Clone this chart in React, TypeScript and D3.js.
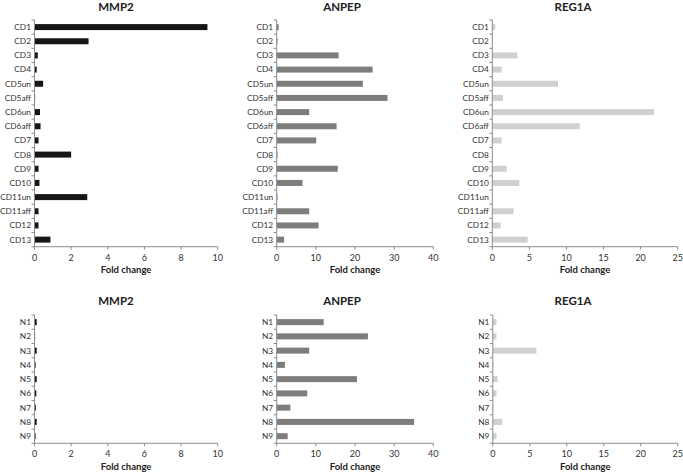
import React from "react";
import * as d3 from "d3";

const cdCategories = ["CD1","CD2","CD3","CD4","CD5un","CD5aff","CD6un","CD6aff","CD7","CD8","CD9","CD10","CD11un","CD11aff","CD12","CD13"];
const nCategories = ["N1","N2","N3","N4","N5","N6","N7","N8","N9"];

const mmp2CD = [9.44,2.95,0.18,0.12,0.47,0.03,0.3,0.33,0.22,2.0,0.22,0.27,2.88,0.22,0.22,0.87];
const anpepCD = [0.5,0.2,15.8,24.5,22.0,28.3,8.3,15.3,10.1,0.2,15.6,6.6,0.2,8.3,10.7,1.9];
const reg1aCD = [0.4,0.05,3.37,1.26,8.86,1.44,21.8,11.8,1.26,0.05,1.93,3.64,0.05,2.88,1.12,4.77];

const mmp2N = [0.12,0.03,0.12,0.06,0.12,0.1,0.07,0.12,0.06];
const anpepN = [12.0,23.3,8.3,2.1,20.5,7.8,3.5,35.1,2.8];
const reg1aN = [0.5,0.5,5.9,0.05,0.65,0.5,0.02,1.27,0.5];

const mmp2Ticks = [0,2,4,6,8,10];
const anpepTicks = [0,10,20,30,40];
const reg1aTicks = [0,5,10,15,20,25];

const FONT = "Lato, 'Open Sans', 'DejaVu Sans', sans-serif";
const AXIS = "#8c8c8c";

type PanelProps = {
  title: string; cats: string[]; vals: number[]; ticks: number[];
  x0: number; x1: number; y0: number; y1: number; color: string; titleX: number; titleY: number;
};

function Panel(p: PanelProps) {
  const x = d3.scaleLinear().domain([0, p.ticks[p.ticks.length - 1]]).range([p.x0, p.x1]);
  const y = d3.scaleBand().domain(p.cats).range([p.y0, p.y1]);
  const bw = 6;
  const boundaries = d3.range(p.cats.length + 1).map(i => p.y0 + i * y.step());
  return (
    <g>
      <text x={p.titleX} y={p.titleY} textAnchor="middle" fontFamily={FONT} fontWeight="bold" fontSize={11.5} fill="#222">{p.title}</text>
      {p.cats.map((c, i) => (
        <rect key={c} x={x(0)} y={(y(c) as number) + y.bandwidth() / 2 - bw / 2} width={Math.max(0.6, x(p.vals[i]) - x(0))} height={bw} fill={p.color} />
      ))}
      <line x1={p.x0} x2={p.x0} y1={p.y0} y2={p.y1} stroke={AXIS} strokeWidth={1} />
      <line x1={p.x0} x2={p.x1} y1={p.y1} y2={p.y1} stroke={AXIS} strokeWidth={1} />
      {boundaries.map((b, i) => (
        <line key={i} x1={p.x0 - 3} x2={p.x0} y1={b} y2={b} stroke={AXIS} strokeWidth={1} />
      ))}
      {p.cats.map(c => (
        <text key={c} x={p.x0 - 3.5} y={(y(c) as number) + y.bandwidth() / 2} dy="0.35em" textAnchor="end" fontFamily={FONT} fontSize={8.3} fill="#333">{c}</text>
      ))}
      {p.ticks.map(t => (
        <g key={t}>
          <line x1={x(t)} x2={x(t)} y1={p.y1} y2={p.y1 + 3} stroke={AXIS} strokeWidth={1} />
          <text x={x(t)} y={p.y1 + 14} textAnchor="middle" fontFamily={FONT} fontSize={9} fill="#333">{t}</text>
        </g>
      ))}
      <text x={(p.x0 + p.x1) / 2} y={p.y1 + 26.5} textAnchor="middle" fontFamily={FONT} fontWeight="bold" fontSize={9.5} fill="#222">Fold change</text>
    </g>
  );
}

export default function App() {
  const top = { y0: 20, y1: 246.7, titleY: 11 };
  const bot = { y0: 315, y1: 443.3, titleY: 305 };
  return (
    <svg width={683} height={473} style={{ position: "absolute", left: 0, top: 0, background: "#fff" }}>
      <rect width={683} height={473} fill="#fff" />
      <Panel title="MMP2" cats={cdCategories} vals={mmp2CD} ticks={mmp2Ticks} x0={34.5} x1={217.7} {...top} titleX={116} color="#161616" />
      <Panel title="ANPEP" cats={cdCategories} vals={anpepCD} ticks={anpepTicks} x0={276.7} x1={433.3} {...top} titleX={342} color="#7d7d7d" />
      <Panel title="REG1A" cats={cdCategories} vals={reg1aCD} ticks={reg1aTicks} x0={492.3} x1={677.7} {...top} titleX={573} color="#d0d0d0" />
      <Panel title="MMP2" cats={nCategories} vals={mmp2N} ticks={mmp2Ticks} x0={34.5} x1={217.7} {...bot} titleX={116} color="#161616" />
      <Panel title="ANPEP" cats={nCategories} vals={anpepN} ticks={anpepTicks} x0={276.7} x1={433.3} {...bot} titleX={342} color="#7d7d7d" />
      <Panel title="REG1A" cats={nCategories} vals={reg1aN} ticks={reg1aTicks} x0={492.8} x1={677.7} {...bot} titleX={573} color="#d0d0d0" />
    </svg>
  );
}
